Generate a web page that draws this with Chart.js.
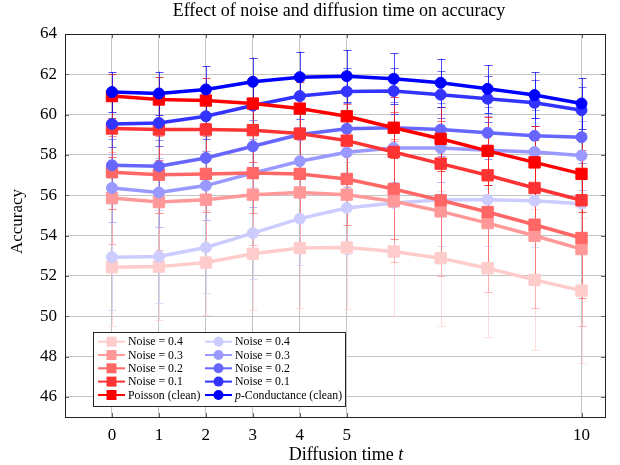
<!DOCTYPE html>
<html><head><meta charset="utf-8">
<script src="https://cdn.jsdelivr.net/npm/chart.js@4.4.0/dist/chart.umd.min.js"></script>
<style>html,body{margin:0;padding:0;background:#fff}#wrap{width:620px;height:465px}</style>
</head><body><div id="wrap"><canvas id="c" width="620" height="465"></canvas></div>
<script>
// ---- data ----
const diffusionTimes = [0,1,2,3,4,5,6,7,8,9,10];
const xTickValues = [0,1,2,3,4,5,10];
const yTickValues = [46,48,50,52,54,56,58,60,62,64];

const poissonNoise04 = [52.43,52.46,52.66,53.10,53.38,53.41,53.21,52.88,52.38,51.80,51.27];
const poissonNoise03 = [55.86,55.66,55.78,56.03,56.14,56.03,55.70,55.20,54.62,53.99,53.33];
const poissonNoise02 = [57.14,57.02,57.06,57.10,57.06,56.81,56.31,55.75,55.17,54.54,53.88];
const poissonNoise01 = [59.31,59.26,59.26,59.23,59.06,58.71,58.15,57.57,56.99,56.36,55.75];
const poissonClean   = [60.92,60.75,60.70,60.55,60.30,59.92,59.35,58.80,58.20,57.63,57.06];

const condNoise04 = [52.93,52.96,53.41,54.12,54.84,55.37,55.62,55.78,55.78,55.73,55.58];
const condNoise03 = [56.36,56.14,56.48,57.10,57.69,58.13,58.35,58.35,58.23,58.15,57.97];
const condNoise02 = [57.49,57.44,57.85,58.43,59.01,59.30,59.35,59.26,59.10,58.95,58.88];
const condNoise01 = [59.54,59.59,59.92,60.45,60.92,61.15,61.17,60.99,60.79,60.59,60.22];
const condClean   = [61.12,61.05,61.25,61.63,61.86,61.91,61.78,61.58,61.28,60.97,60.55];

const poissonNoise04Err = [2.90,2.65,2.60,2.80,2.95,3.05,3.20,3.35,3.40,3.50,3.60];
const poissonNoise03Err = [2.30,2.40,2.40,2.50,2.60,2.80,3.00,3.20,3.40,3.60,3.80];
const poissonNoise02Err = [1.80,1.90,1.90,2.00,2.10,2.30,2.50,2.70,2.90,3.00,3.00];
const poissonNoise01Err = [1.40,1.50,1.50,1.60,1.70,1.80,2.00,2.10,2.20,2.40,2.50];
const poissonCleanErr   = [1.10,1.10,1.10,1.20,1.30,1.40,1.50,1.60,1.70,1.80,1.90];

const condNoise04Err = [2.63,2.30,2.27,2.27,2.30,2.30,2.30,2.30,2.30,2.30,2.30];
const condNoise03Err = [1.70,1.70,1.70,1.70,1.70,1.70,1.70,1.70,1.70,1.70,1.70];
const condNoise02Err = [1.30,1.30,1.30,1.30,1.30,1.30,1.30,1.30,1.30,1.30,1.30];
const condNoise01Err = [1.15,1.15,1.15,1.15,1.15,1.15,1.15,1.15,1.15,1.15,1.15];
const condCleanErr   = [1.00,1.08,1.16,1.20,1.26,1.30,1.26,1.20,1.18,1.14,1.26];

const seriesLabels = ['Noise = 0.4','Noise = 0.3','Noise = 0.2','Noise = 0.1'];

// ---- build datasets ----
const SERIF = '"Liberation Serif", "DejaVu Serif", serif';
function pts(arr){ return diffusionTimes.map((x,i)=>({x:x,y:arr[i]})); }
function ds(label, values, errs, color, kind){
  return {label:label, data:pts(values), errors:errs, kind:kind,
    borderColor:color, backgroundColor:color, borderWidth:3.5,
    pointStyle: kind==='red' ? 'rect' : 'circle',
    pointRadius: kind==='red' ? 8 : 5.5, pointBorderWidth:1,
    pointHoverRadius: kind==='red' ? 8 : 5.5,
    fill:false, tension:0};
}
const redCols = ['#ffcccc','#ff9999','#ff6666','#ff3333','#ff0000'];
const blueCols = ['#ccccff','#9999ff','#6666ff','#3333ff','#0000ff'];
const redVals = [poissonNoise04,poissonNoise03,poissonNoise02,poissonNoise01,poissonClean];
const redErrs = [poissonNoise04Err,poissonNoise03Err,poissonNoise02Err,poissonNoise01Err,poissonCleanErr];
const blueVals = [condNoise04,condNoise03,condNoise02,condNoise01,condClean];
const blueErrs = [condNoise04Err,condNoise03Err,condNoise02Err,condNoise01Err,condCleanErr];
const redLabels = seriesLabels.concat(['Poisson (clean)']);
const blueLabels = seriesLabels.concat(['p-Conductance (clean)']);

const datasets = [];
for (let i=0;i<5;i++){
  datasets.push(ds(redLabels[i], redVals[i], redErrs[i], redCols[i], 'red'));
  datasets.push(ds(blueLabels[i], blueVals[i], blueErrs[i], blueCols[i], 'blue'));
}
datasets.forEach((d,i)=>{ d.order = datasets.length - i; d.legendRow = Math.floor(i/2); d.legendCol = i%2; });
datasets[9].italicPrefix = 1;

function hexA(hex,a){
  const r=parseInt(hex.substr(1,2),16), g=parseInt(hex.substr(3,2),16), b=parseInt(hex.substr(5,2),16);
  return 'rgba('+r+','+g+','+b+','+a+')';
}

const extras = {
  id:'extras',
  beforeDatasetsDraw(chart){
    const ctx=chart.ctx, xs=chart.scales.x, ys=chart.scales.y;
    ctx.save();
    chart.data.datasets.forEach(d=>{
      ctx.strokeStyle = hexA(d.borderColor,0.7);
      ctx.lineWidth = 1;
      d.data.forEach((p,i)=>{
        const e=d.errors[i];
        const px=Math.round(xs.getPixelForValue(p.x))+0.5;
        const y1=ys.getPixelForValue(p.y+e), y2=ys.getPixelForValue(p.y-e);
        ctx.beginPath();
        ctx.moveTo(px,y1); ctx.lineTo(px,y2);
        ctx.moveTo(px-4,Math.round(y1)+0.5); ctx.lineTo(px+4,Math.round(y1)+0.5);
        ctx.moveTo(px-4,Math.round(y2)+0.5); ctx.lineTo(px+4,Math.round(y2)+0.5);
        ctx.stroke();
      });
    });
    ctx.restore();
  },
  afterDraw(chart){
    const ctx=chart.ctx, a=chart.chartArea, xs=chart.scales.x, ys=chart.scales.y;
    ctx.save();
    // tick marks
    ctx.strokeStyle='#666'; ctx.lineWidth=1;
    ctx.beginPath();
    xTickValues.forEach(v=>{
      const px=Math.round(xs.getPixelForValue(v))+0.5;
      ctx.moveTo(px,a.top); ctx.lineTo(px,a.top+4);
      ctx.moveTo(px,a.bottom); ctx.lineTo(px,a.bottom-4);
    });
    yTickValues.forEach(v=>{
      const py=Math.round(ys.getPixelForValue(v))+0.5;
      ctx.moveTo(a.left,py); ctx.lineTo(a.left+4,py);
      ctx.moveTo(a.right,py); ctx.lineTo(a.right-4,py);
    });
    ctx.stroke();
    // frame
    ctx.strokeStyle='#222'; ctx.lineWidth=1;
    ctx.strokeRect(Math.round(a.left)+0.5, Math.round(a.top)+0.5, Math.round(a.right-a.left), Math.round(a.bottom-a.top));
    // titles
    ctx.fillStyle='#000';
    ctx.textBaseline='middle'; ctx.textAlign='center';
    ctx.font='18px '+SERIF;
    ctx.fillText('Effect of noise and diffusion time on accuracy', (a.left+a.right)/2+4, 11);
    // x title with italic t
    const t1='Diffusion time ';
    ctx.font='18px '+SERIF; const w1=ctx.measureText(t1).width;
    ctx.font='italic 18px '+SERIF; const w2=ctx.measureText('t').width;
    const cx=(a.left+a.right)/2+11, start=cx-(w1+w2)/2;
    ctx.textAlign='left';
    ctx.font='18px '+SERIF; ctx.fillText(t1,start,455);
    ctx.font='italic 18px '+SERIF; ctx.fillText('t',start+w1,455);
    // y title
    ctx.save();
    ctx.translate(18,(a.top+a.bottom)/2-4);
    ctx.rotate(-Math.PI/2);
    ctx.textAlign='center'; ctx.font='17px '+SERIF;
    ctx.fillText('Accuracy',0,0);
    ctx.restore();
    // legend
    const L=93.5, T=332.5, W=252, H=74;
    ctx.fillStyle='#fff'; ctx.fillRect(L,T,W,H);
    ctx.strokeStyle='#222'; ctx.lineWidth=1; ctx.strokeRect(L,T,W,H);
    const rowY=[341.7,355,368.3,381.6,395];
    const colX=[98,205];
    chart.data.datasets.forEach(d=>{
      const y=rowY[d.legendRow], x0=colX[d.legendCol];
      ctx.strokeStyle=d.borderColor; ctx.lineWidth=2;
      ctx.beginPath(); ctx.moveTo(x0,y); ctx.lineTo(x0+27,y); ctx.stroke();
      ctx.fillStyle=d.borderColor;
      const mx=x0+13.5;
      ctx.beginPath();
      if (d.kind==='red') ctx.rect(mx-5,y-5,10,10); else ctx.arc(mx,y,5,0,Math.PI*2);
      ctx.fill();
      ctx.fillStyle='#000'; ctx.textAlign='left'; ctx.textBaseline='middle';
      let tx=x0+30;
      let lab=d.label;
      if (d.italicPrefix){
        ctx.font='italic 11.8px '+SERIF;
        const pre=lab.substr(0,1);
        ctx.fillText(pre,tx,y+0.5); tx+=ctx.measureText(pre).width;
        lab=lab.substr(1);
      }
      ctx.font='11.8px '+SERIF;
      ctx.fillText(lab,tx,y+0.5);
    });
    ctx.restore();
  }
};

new Chart(document.getElementById('c'), {
  type:'line',
  data:{datasets:datasets},
  options:{
    responsive:false, animation:false, devicePixelRatio:1,
    layout:{padding:{top:34,right:15,left:0,bottom:0}},
    plugins:{legend:{display:false}, title:{display:false}, tooltip:{enabled:false}},
    scales:{
      x:{type:'linear', min:-1, max:10.5,
        afterBuildTicks:s=>{ s.ticks = xTickValues.map(v=>({value:v})); },
        afterFit:s=>{ s.height=48; },
        grid:{color:'#c4c4c4', drawTicks:false, lineWidth:1},
        border:{display:false},
        ticks:{color:'#000', padding:8, autoSkip:false, maxRotation:0, font:{family:SERIF,size:17}}
      },
      y:{type:'linear', min:45, max:64,
        afterBuildTicks:s=>{ s.ticks = yTickValues.map(v=>({value:v})); },
        afterFit:s=>{ s.width=65; },
        grid:{color:'#c4c4c4', drawTicks:false, lineWidth:1},
        border:{display:false},
        ticks:{color:'#000', padding:8, font:{family:SERIF,size:17}}
      }
    }
  },
  plugins:[extras]
});
</script></body></html>
